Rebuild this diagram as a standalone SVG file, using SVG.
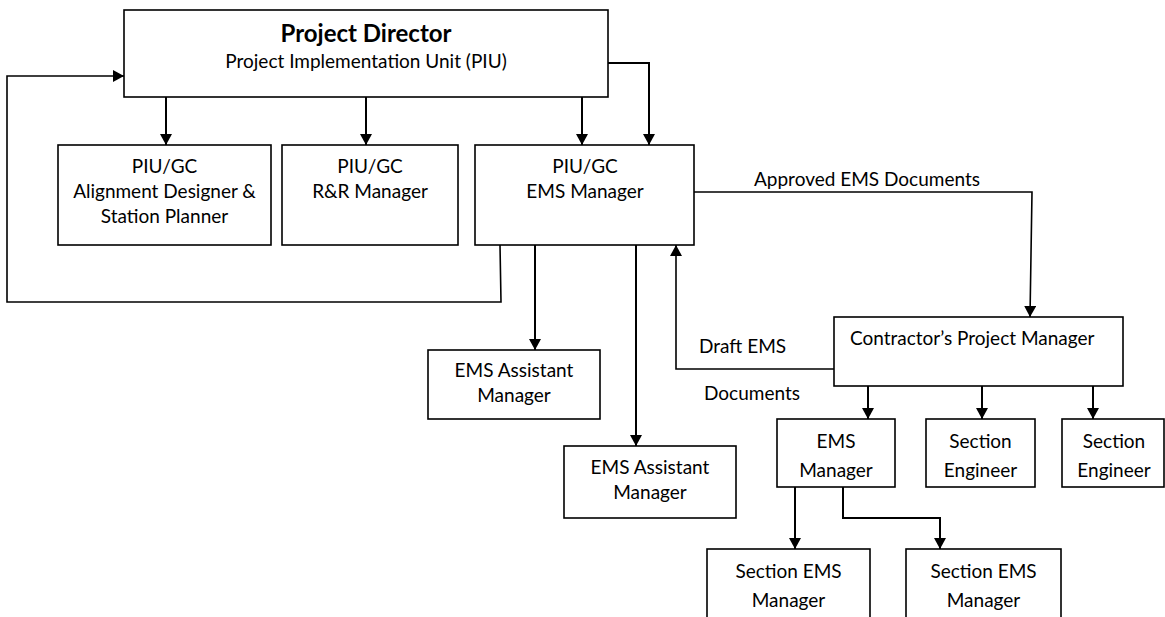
<svg xmlns="http://www.w3.org/2000/svg" width="1165" height="617" viewBox="0 0 1165 617">
<style>
.box{fill:#fff;stroke:#000;stroke-width:1.6}
.t{font-family:Lato,"Open Sans","Liberation Sans",sans-serif;font-size:19px;fill:#000}
.c{text-anchor:middle}
.b{font-weight:bold;font-size:24px}
.ln{fill:none;stroke:#000;stroke-width:2}
.thin{stroke-width:1.6}
</style>
<defs>
<marker id="ah" markerUnits="userSpaceOnUse" markerWidth="12" markerHeight="12" refX="11" refY="6" orient="auto">
<path d="M0,0 L11,6 L0,12 z" fill="#000"/>
</marker>
</defs>
<rect width="1165" height="617" fill="#fff"/>
<g id="connectors">
<path class="ln" d="M166,97 V145" marker-end="url(#ah)"/>
<path class="ln" d="M366,97 V145" marker-end="url(#ah)"/>
<path class="ln" d="M582,97 V145" marker-end="url(#ah)"/>
<path class="ln" d="M608,63 H649 V145" marker-end="url(#ah)"/>
<path class="ln thin" d="M500,245 L501,302 H7 V76 H124" marker-end="url(#ah)"/>
<path class="ln thin" d="M694,192 H1032 L1030,317" marker-end="url(#ah)"/>
<path class="ln thin" d="M834,369 H676 V245" marker-end="url(#ah)"/>
<path class="ln" d="M535,245 V350" marker-end="url(#ah)"/>
<path class="ln" d="M636,245 V446" marker-end="url(#ah)"/>
<path class="ln" d="M868,386 V419" marker-end="url(#ah)"/>
<path class="ln" d="M982,386 V419" marker-end="url(#ah)"/>
<path class="ln" d="M1093,386 V419" marker-end="url(#ah)"/>
<path class="ln" d="M795,487 V549" marker-end="url(#ah)"/>
<path class="ln" d="M843,487 V518 H940 V549" marker-end="url(#ah)"/>
<text class="t" x="754" y="186">Approved EMS Documents</text>
<text class="t" x="699" y="353">Draft EMS</text>
<text class="t" x="704" y="400">Documents</text>
</g>
<g id="director">
<rect class="box" x="124" y="10" width="484" height="87"/>
<text class="t c b" x="366" y="42">Project Director</text>
<text class="t c" x="366" y="68">Project Implementation Unit (PIU)</text>
</g>
<g id="align">
<rect class="box" x="58" y="145" width="213" height="100"/>
<text class="t c" x="164.5" y="173">PIU/GC</text>
<text class="t c" x="164.5" y="198">Alignment Designer &amp;</text>
<text class="t c" x="164.5" y="223">Station Planner</text>
</g>
<g id="rr">
<rect class="box" x="282" y="145" width="176" height="100"/>
<text class="t c" x="370" y="173">PIU/GC</text>
<text class="t c" x="370" y="198">R&amp;R Manager</text>
</g>
<g id="ems">
<rect class="box" x="475" y="145" width="219" height="100"/>
<text class="t c" x="585" y="173">PIU/GC</text>
<text class="t c" x="585" y="198">EMS Manager</text>
</g>
<g id="asst1">
<rect class="box" x="428" y="350" width="172" height="69"/>
<text class="t c" x="514" y="377">EMS Assistant</text>
<text class="t c" x="514" y="402">Manager</text>
</g>
<g id="asst2">
<rect class="box" x="564" y="446" width="172" height="72"/>
<text class="t c" x="650" y="474">EMS Assistant</text>
<text class="t c" x="650" y="499">Manager</text>
</g>
<g id="cpm">
<rect class="box" x="834" y="317" width="289" height="69"/>
<text class="t" x="850" y="345">Contractor’s Project Manager</text>
</g>
<g id="cems">
<rect class="box" x="777" y="419" width="118" height="68"/>
<text class="t c" x="836" y="448">EMS</text>
<text class="t c" x="836" y="477">Manager</text>
</g>
<g id="se1">
<rect class="box" x="926" y="419" width="109" height="68"/>
<text class="t c" x="980.5" y="448">Section</text>
<text class="t c" x="980.5" y="477">Engineer</text>
</g>
<g id="se2">
<rect class="box" x="1062" y="419" width="102" height="68"/>
<text class="t c" x="1114" y="448">Section</text>
<text class="t c" x="1114" y="477">Engineer</text>
</g>
<g id="sems1">
<rect class="box" x="707" y="549" width="163" height="90"/>
<text class="t c" x="788.5" y="578">Section EMS</text>
<text class="t c" x="788.5" y="607">Manager</text>
</g>
<g id="sems2">
<rect class="box" x="906" y="549" width="155" height="90"/>
<text class="t c" x="983.5" y="578">Section EMS</text>
<text class="t c" x="983.5" y="607">Manager</text>
</g>
</svg>
